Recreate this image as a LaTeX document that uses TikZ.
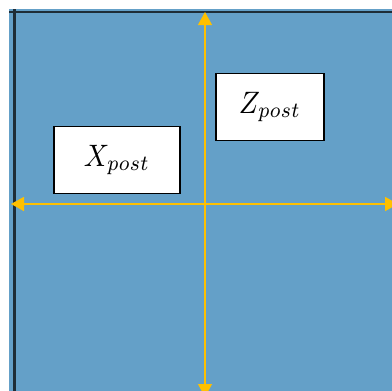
\documentclass[tikz,border=0pt]{standalone}
\usetikzlibrary{arrows.meta}
\definecolor{planeblue}{RGB}{100,160,200}
\definecolor{axisorange}{RGB}{255,192,0}
\definecolor{frameedge}{RGB}{30,45,55}
\newcommand{\postlabel}[1]{\scalebox{2.8}[3.1]{$#1_{post}$}}

\begin{document}
\begin{tikzpicture}[
		x=1pt, y=-1pt,
		postbox/.style={draw=black, line width=1.3pt, fill=white, inner sep=0pt},
		axis/.style={draw=axisorange, -{Triangle[width=14pt,length=13pt]}}
		]
		\useasboundingbox (0,0) rectangle (392,391);
		\clip (0,0) rectangle (392,391);
		% background plane
		\fill[planeblue] (9,9) rectangle (392,391);
		\draw[frameedge, line width=2.5pt] (9,12) -- (392,12);
		\draw[frameedge, line width=3pt] (14.5,9) -- (14.5,391);
		% axes
		\coordinate (origin) at (205,204);
		\coordinate (top) at (205,12);
		\coordinate (bottom) at (205,397);
		\coordinate (left) at (11,204);
		\coordinate (right) at (398,204);
		\draw[axis, line width=1.1pt] (origin) -- (top);
		\draw[axis, line width=1.1pt] (origin) -- (bottom);
		\draw[axis, line width=1.7pt] (origin) -- (left);
		\draw[axis, line width=1.7pt] (origin) -- (right);
		% labels
		\node[postbox, minimum width=126pt, minimum height=67pt] (xpost) at (117,160) {\postlabel{X}};
		\node[postbox, minimum width=108pt, minimum height=67pt] (zpost) at (270,107) {\postlabel{Z}};
	\end{tikzpicture}
\end{document}
